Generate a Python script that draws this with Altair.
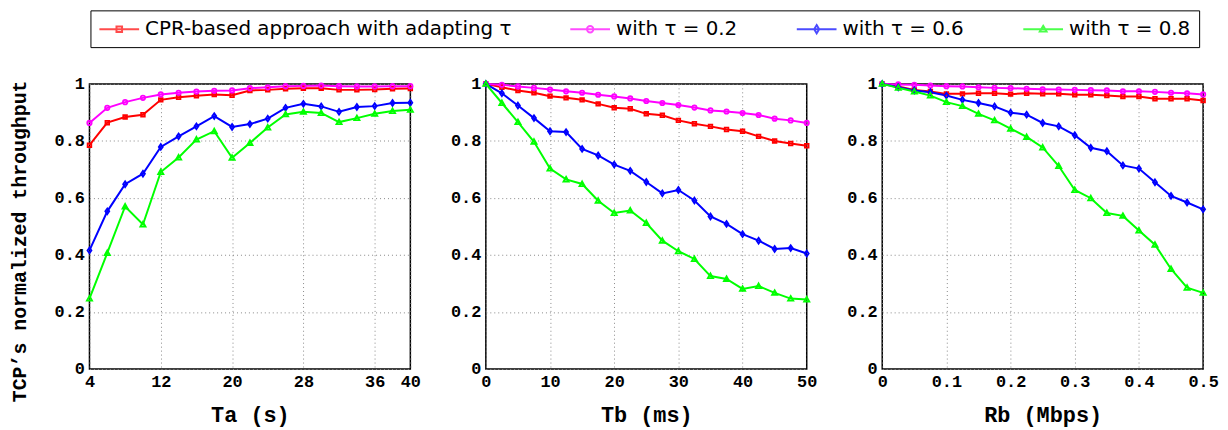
import altair as alt
import pandas as pd

# ---------------- data ----------------
series_names = ["CPR-based approach with adapting τ", "with τ = 0.2", "with τ = 0.6", "with τ = 0.8"]
series_colors = ["#ff0000", "#ff00ff", "#0000ff", "#00ff00"]

ta = [4, 6, 8, 10, 12, 14, 16, 18, 20, 22, 24, 26, 28, 30, 32, 34, 36, 38, 40]
ta_adapt = [0.785, 0.864, 0.884, 0.892, 0.944, 0.953, 0.958, 0.963, 0.960, 0.977, 0.979, 0.983, 0.985, 0.985, 0.979, 0.979, 0.980, 0.983, 0.984]
ta_02 = [0.863, 0.916, 0.936, 0.951, 0.963, 0.969, 0.973, 0.976, 0.977, 0.985, 0.988, 0.992, 0.993, 0.994, 0.992, 0.991, 0.991, 0.992, 0.992]
ta_06 = [0.416, 0.553, 0.648, 0.685, 0.779, 0.816, 0.851, 0.887, 0.849, 0.859, 0.878, 0.916, 0.930, 0.921, 0.902, 0.919, 0.922, 0.933, 0.934]
ta_08 = [0.247, 0.407, 0.570, 0.507, 0.691, 0.742, 0.805, 0.834, 0.741, 0.793, 0.847, 0.893, 0.902, 0.898, 0.866, 0.880, 0.895, 0.905, 0.909]

tb = [0, 2.5, 5, 7.5, 10, 12.5, 15, 17.5, 20, 22.5, 25, 27.5, 30, 32.5, 35, 37.5, 40, 42.5, 45, 47.5, 50]
tb_adapt = [1.0, 0.988, 0.977, 0.969, 0.957, 0.951, 0.944, 0.930, 0.916, 0.913, 0.895, 0.890, 0.872, 0.860, 0.851, 0.840, 0.834, 0.816, 0.800, 0.791, 0.783]
tb_02 = [1.0, 0.997, 0.991, 0.986, 0.980, 0.974, 0.969, 0.962, 0.956, 0.949, 0.940, 0.933, 0.926, 0.917, 0.907, 0.903, 0.898, 0.891, 0.878, 0.872, 0.863]
tb_06 = [1.0, 0.967, 0.924, 0.880, 0.834, 0.831, 0.772, 0.749, 0.717, 0.695, 0.656, 0.616, 0.628, 0.591, 0.535, 0.509, 0.473, 0.450, 0.421, 0.424, 0.405]
tb_08 = [1.0, 0.933, 0.866, 0.797, 0.703, 0.665, 0.649, 0.590, 0.547, 0.556, 0.512, 0.450, 0.413, 0.386, 0.326, 0.316, 0.281, 0.291, 0.267, 0.247, 0.244]

rb = [0, 0.025, 0.05, 0.075, 0.1, 0.125, 0.15, 0.175, 0.2, 0.225, 0.25, 0.275, 0.3, 0.325, 0.35, 0.375, 0.4, 0.425, 0.45, 0.475, 0.5]
rb_adapt = [1.0, 0.991, 0.979, 0.973, 0.965, 0.965, 0.967, 0.967, 0.964, 0.967, 0.965, 0.965, 0.962, 0.962, 0.959, 0.956, 0.956, 0.948, 0.948, 0.948, 0.942]
rb_02 = [1.0, 0.998, 0.997, 0.994, 0.992, 0.991, 0.988, 0.986, 0.985, 0.983, 0.981, 0.980, 0.979, 0.978, 0.977, 0.974, 0.974, 0.972, 0.969, 0.967, 0.963]
rb_06 = [1.0, 0.988, 0.977, 0.971, 0.959, 0.944, 0.933, 0.921, 0.899, 0.892, 0.863, 0.851, 0.820, 0.776, 0.764, 0.714, 0.703, 0.655, 0.607, 0.584, 0.560]
rb_08 = [1.0, 0.986, 0.973, 0.959, 0.936, 0.922, 0.895, 0.872, 0.843, 0.814, 0.777, 0.712, 0.628, 0.599, 0.547, 0.537, 0.486, 0.436, 0.351, 0.285, 0.267]

ta_ticks = [4, 12, 20, 28, 36, 40]
tb_ticks = [0, 10, 20, 30, 40, 50]
rb_ticks = [0, 0.1, 0.2, 0.3, 0.4, 0.5]
y_ticks = [0, 0.2, 0.4, 0.6, 0.8, 1]

# marker shapes (plot) and legend symbols (line + marker)
marker_paths = [
    "M-0.35,-0.35H0.35V0.35H-0.35Z",
    "M-0.42,0A0.42,0.42 0 1,0 0.42,0A0.42,0.42 0 1,0 -0.42,0Z",
    "M0,-0.55L0.38,0L0,0.55L-0.38,0Z",
    "M0,-0.5L0.5,0.4L-0.5,0.4Z",
]
legend_paths = [
    "M-2,0H2M-0.28,-0.28H0.28V0.28H-0.28Z",
    "M-2,0H2M-0.32,0A0.32,0.32 0 1,0 0.32,0A0.32,0.32 0 1,0 -0.32,0Z",
    "M-2,0H2M0,-0.42L0.25,0L0,0.42L-0.25,0Z",
    "M-2,0H2M0,-0.34L0.34,0.24L-0.34,0.24Z",
]

MONO = "Liberation Mono"


def long_df(xs, ys_list):
    rows = []
    for name, ys in zip(series_names, ys_list):
        for x, y in zip(xs, ys):
            rows.append({"x": x, "y": y, "series": name})
    return pd.DataFrame(rows)


def panel(df, domain, ticks, xtitle, show_ytitle):
    y_axis_kwargs = dict(values=y_ticks, format="~r", grid=True, ticks=False, domain=False,
                         labelPadding=5, labelFont=MONO, labelFontSize=17, labelFontWeight="bold",
                         titleFont=MONO, titleFontSize=20, titleFontWeight="bold", titlePadding=25,
                         titleY=158)
    if show_ytitle:
        y_axis = alt.Axis(title="TCP’s normalized throughput", **y_axis_kwargs)
    else:
        y_axis = alt.Axis(title=None, **y_axis_kwargs)
    base = alt.Chart(df).encode(
        x=alt.X("x:Q", scale=alt.Scale(domain=domain, nice=False, zero=False),
                axis=alt.Axis(values=ticks, format="~r", title=xtitle, grid=True, ticks=False,
                              domain=False, labelFlush=False, labelPadding=5,
                              labelFont=MONO, labelFontSize=17, labelFontWeight="bold",
                              titleFont=MONO, titleFontSize=22, titleFontWeight="bold",
                              titlePadding=15)),
        y=alt.Y("y:Q", scale=alt.Scale(domain=[0, 1], nice=False), axis=y_axis),
        color=alt.Color("series:N", scale=alt.Scale(domain=series_names, range=series_colors), legend=None),
    )
    lines = base.mark_line(strokeWidth=2, clip=False)
    pts = base.mark_point(filled=False, strokeWidth=1.8, size=110, opacity=1, clip=False).encode(
        shape=alt.Shape("series:N", scale=alt.Scale(domain=series_names, range=marker_paths), legend=None)
    )
    return alt.layer(lines, pts).properties(width=323, height=287)


p1 = panel(long_df(ta, [ta_adapt, ta_02, ta_06, ta_08]), [4, 40], ta_ticks, "Ta (s)", True)
p2 = panel(long_df(tb, [tb_adapt, tb_02, tb_06, tb_08]), [0, 50], tb_ticks, "Tb (ms)", False)
p3 = panel(long_df(rb, [rb_adapt, rb_02, rb_06, rb_08]), [0, 0.5], rb_ticks, "Rb (Mbps)", False)

leg = alt.Legend(orient="none", legendX=1, legendY=-9, direction="horizontal", columns=4,
                 columnPadding=55, title=None, strokeColor="black", padding=8,
                 labelFont="DejaVu Sans", labelFontSize=20, labelColor="black",
                 labelOffset=15, symbolOffset=10, labelLimit=600,
                 symbolSize=400, symbolStrokeWidth=2)

legend_chart = alt.Chart(pd.DataFrame({"series": series_names})).mark_point(
    filled=False, strokeWidth=2
).encode(
    color=alt.Color("series:N", scale=alt.Scale(domain=series_names, range=series_colors), legend=leg),
    shape=alt.Shape("series:N", scale=alt.Scale(domain=series_names, range=legend_paths), legend=leg),
).transform_filter("false").properties(width=1112, height=37, view=alt.ViewBackground(strokeOpacity=0))

panels = alt.hconcat(p1, p2, p3, spacing=28)

chart = alt.vconcat(legend_chart, panels, spacing=18).resolve_scale(
    color="independent", shape="independent"
).properties(
    padding={"left": 0, "top": 0, "right": 0, "bottom": 0}
).configure_view(
    stroke="black", strokeWidth=1.5
).configure_axis(
    gridColor="#888888", gridDash=[1, 3], gridWidth=1, gridOpacity=1,
    labelColor="black", titleColor="black"
)

chart.save("out.html", embed_options={"renderer": "svg", "actions": False})
